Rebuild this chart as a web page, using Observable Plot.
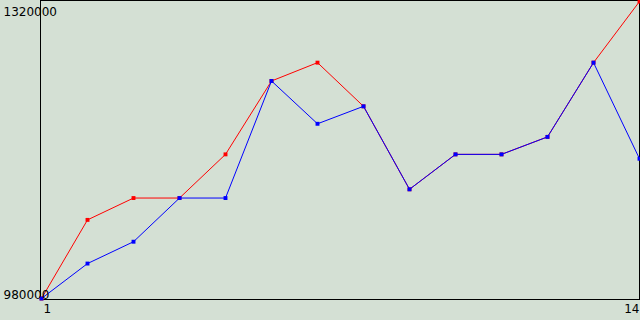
<!DOCTYPE html>
<html>
<head>
<meta charset="utf-8">
<script src="https://cdn.jsdelivr.net/npm/d3@7"></script>
<script src="https://cdn.jsdelivr.net/npm/@observablehq/plot@0.6"></script>
<style>
  html, body { margin: 0; padding: 0; background: #d4e0d4; }
  svg { display: block; }
</style>
</head>
<body>
<div id="chart"></div>
<script>
const xs = [1, 2, 3, 4, 5, 6, 7, 8, 9, 10, 11, 12, 13, 14];
const redValues = [980000, 1070000, 1095000, 1095000, 1145000, 1229000, 1250000, 1200000, 1105000, 1145000, 1145000, 1165000, 1250000, 1320000];
const blueValues = [980000, 1020000, 1045000, 1095000, 1095000, 1229000, 1180000, 1200000, 1105000, 1145000, 1145000, 1165000, 1250000, 1140000];
const yTicks = [980000, 1320000];
const xTicks = [1, 14];

const red = xs.map((x, i) => ({x, y: redValues[i]}));
const blue = xs.map((x, i) => ({x, y: blueValues[i]}));

const font = "DejaVu Sans";
const chart = Plot.plot({
  width: 640,
  height: 320,
  marginLeft: 40,
  marginRight: 1,
  marginTop: 0,
  marginBottom: 21,
  insetTop: 1,
  insetBottom: 1,
  insetLeft: 1,
  insetRight: 0,
  style: {background: "#d4e0d4", fontFamily: font, fontSize: "12px", color: "black"},
  x: {domain: [1, 14], axis: null},
  y: {domain: [980000, 1320000], axis: null},
  marks: [
    Plot.frame({stroke: "black"}),
    Plot.line(red, {x: "x", y: "y", stroke: "#ff0000", strokeWidth: 1}),
    Plot.dot(red, {x: "x", y: "y", symbol: "square", r: 2.2, fill: "#ff0000"}),
    Plot.line(blue, {x: "x", y: "y", stroke: "#0000ff", strokeWidth: 1}),
    Plot.dot(blue, {x: "x", y: "y", symbol: "square", r: 2.2, fill: "#0000ff"}),
    Plot.axisY({ticks: [yTicks[1]], label: null, tickSize: 0, tickPadding: 0, textAnchor: "start", dx: -37, dy: 6, lineAnchor: "top", tickFormat: d => String(d), fontSize: 12}),
    Plot.axisY({ticks: [yTicks[0]], label: null, tickSize: 0, tickPadding: 0, textAnchor: "start", dx: -37, dy: 0, lineAnchor: "bottom", tickFormat: d => String(d), fontSize: 12}),
    Plot.axisX({ticks: [xTicks[0]], label: null, tickSize: 0, tickPadding: 5, textAnchor: "start", dx: 2, tickFormat: d => String(d), fontSize: 12}),
    Plot.axisX({ticks: [xTicks[1]], label: null, tickSize: 0, tickPadding: 5, textAnchor: "end", dx: 0, tickFormat: d => String(d), fontSize: 12})
  ]
});
document.getElementById("chart").appendChild(chart);
</script>
</body>
</html>
